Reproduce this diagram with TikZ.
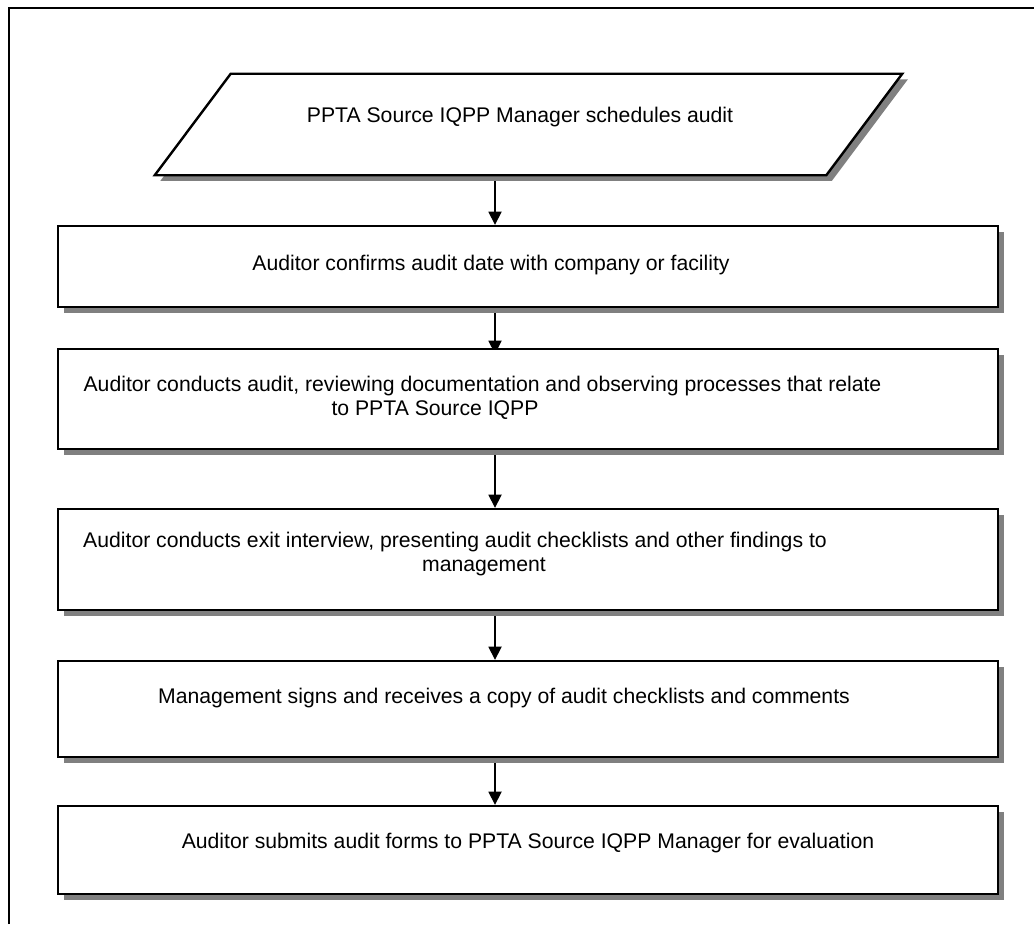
\documentclass[tikz,border=0pt]{standalone}
\usepackage{fontspec}
\setmainfont{Liberation Sans}
\usetikzlibrary{shadows,arrows.meta,backgrounds,calc}
\begin{document}
\begin{tikzpicture}[x=0.75pt,y=-0.75pt,
  shp/.style={draw=black, line width=1.8pt, fill=white,
    drop shadow={shadow xshift=4.2pt, shadow yshift=-4.2pt, fill=black!50, opacity=1}},
  boxnode/.style={shp, rectangle, inner sep=0pt, minimum width=705pt, minimum height=#1},
  lbl/.style={inner sep=0pt, font=\fontsize{15.9}{18}\selectfont},
  flow/.style={line width=1.2pt, -{Triangle[length=9.8pt,width=9.8pt]}}]
\useasboundingbox (0,0) rectangle (1034,924);
\draw[line width=1.8pt] (9,924) -- (9,8) -- (1034,8);

\node (p) [inner sep=0pt, minimum width=560.25pt, minimum height=75.75pt] at (528.5,124.5) {};
\path[shp] ($(p.north west)+(76,0)$) -- (p.north east) -- ($(p.south east)-(76,0)$) -- (p.south west) -- cycle;
\node[lbl] (t1) at (520,117) {PPTA Source IQPP Manager schedules audit};

\node[boxnode=60.75pt] (b2) at (528,266.5) {};
\node[lbl] (t2) at (491,265) {Auditor confirms audit date with company or facility};

\node[boxnode=75pt] (b3) at (528,399) {};
\node[lbl] (t3a) at (482.5,386) {Auditor conducts audit, reviewing documentation and observing processes that relate};
\node[lbl] (t3b) at (435,410) {to PPTA Source IQPP};

\node[boxnode=75.75pt] (b4) at (528,559.5) {};
\node[lbl] (t4a) at (455,542) {Auditor conducts exit interview, presenting audit checklists and other findings to};
\node[lbl] (t4b) at (484,567) {management};

\node[boxnode=72pt] (b5) at (528,709) {};
\node[lbl] (t5) at (504,698) {Management signs and receives a copy of audit checklists and comments};

\node[boxnode=66pt] (b6) at (528,850) {};
\node[lbl] (t6) at (528,843) {Auditor submits audit forms to PPTA Source IQPP Manager for evaluation};

\coordinate (ax) at (495,0);
\begin{pgfonlayer}{background}
\fill[white] (0,0) rectangle (1034,924);
\draw[flow] (p.south -| ax) -- (b2.north -| ax);
\draw[flow] (b2.south -| ax) -- ($(b3.north -| ax)+(0,6)$);
\draw[flow] (b3.south -| ax) -- (b4.north -| ax);
\draw[flow] (b4.south -| ax) -- (b5.north -| ax);
\draw[flow] (b5.south -| ax) -- (b6.north -| ax);
\end{pgfonlayer}
\end{tikzpicture}
\end{document}
